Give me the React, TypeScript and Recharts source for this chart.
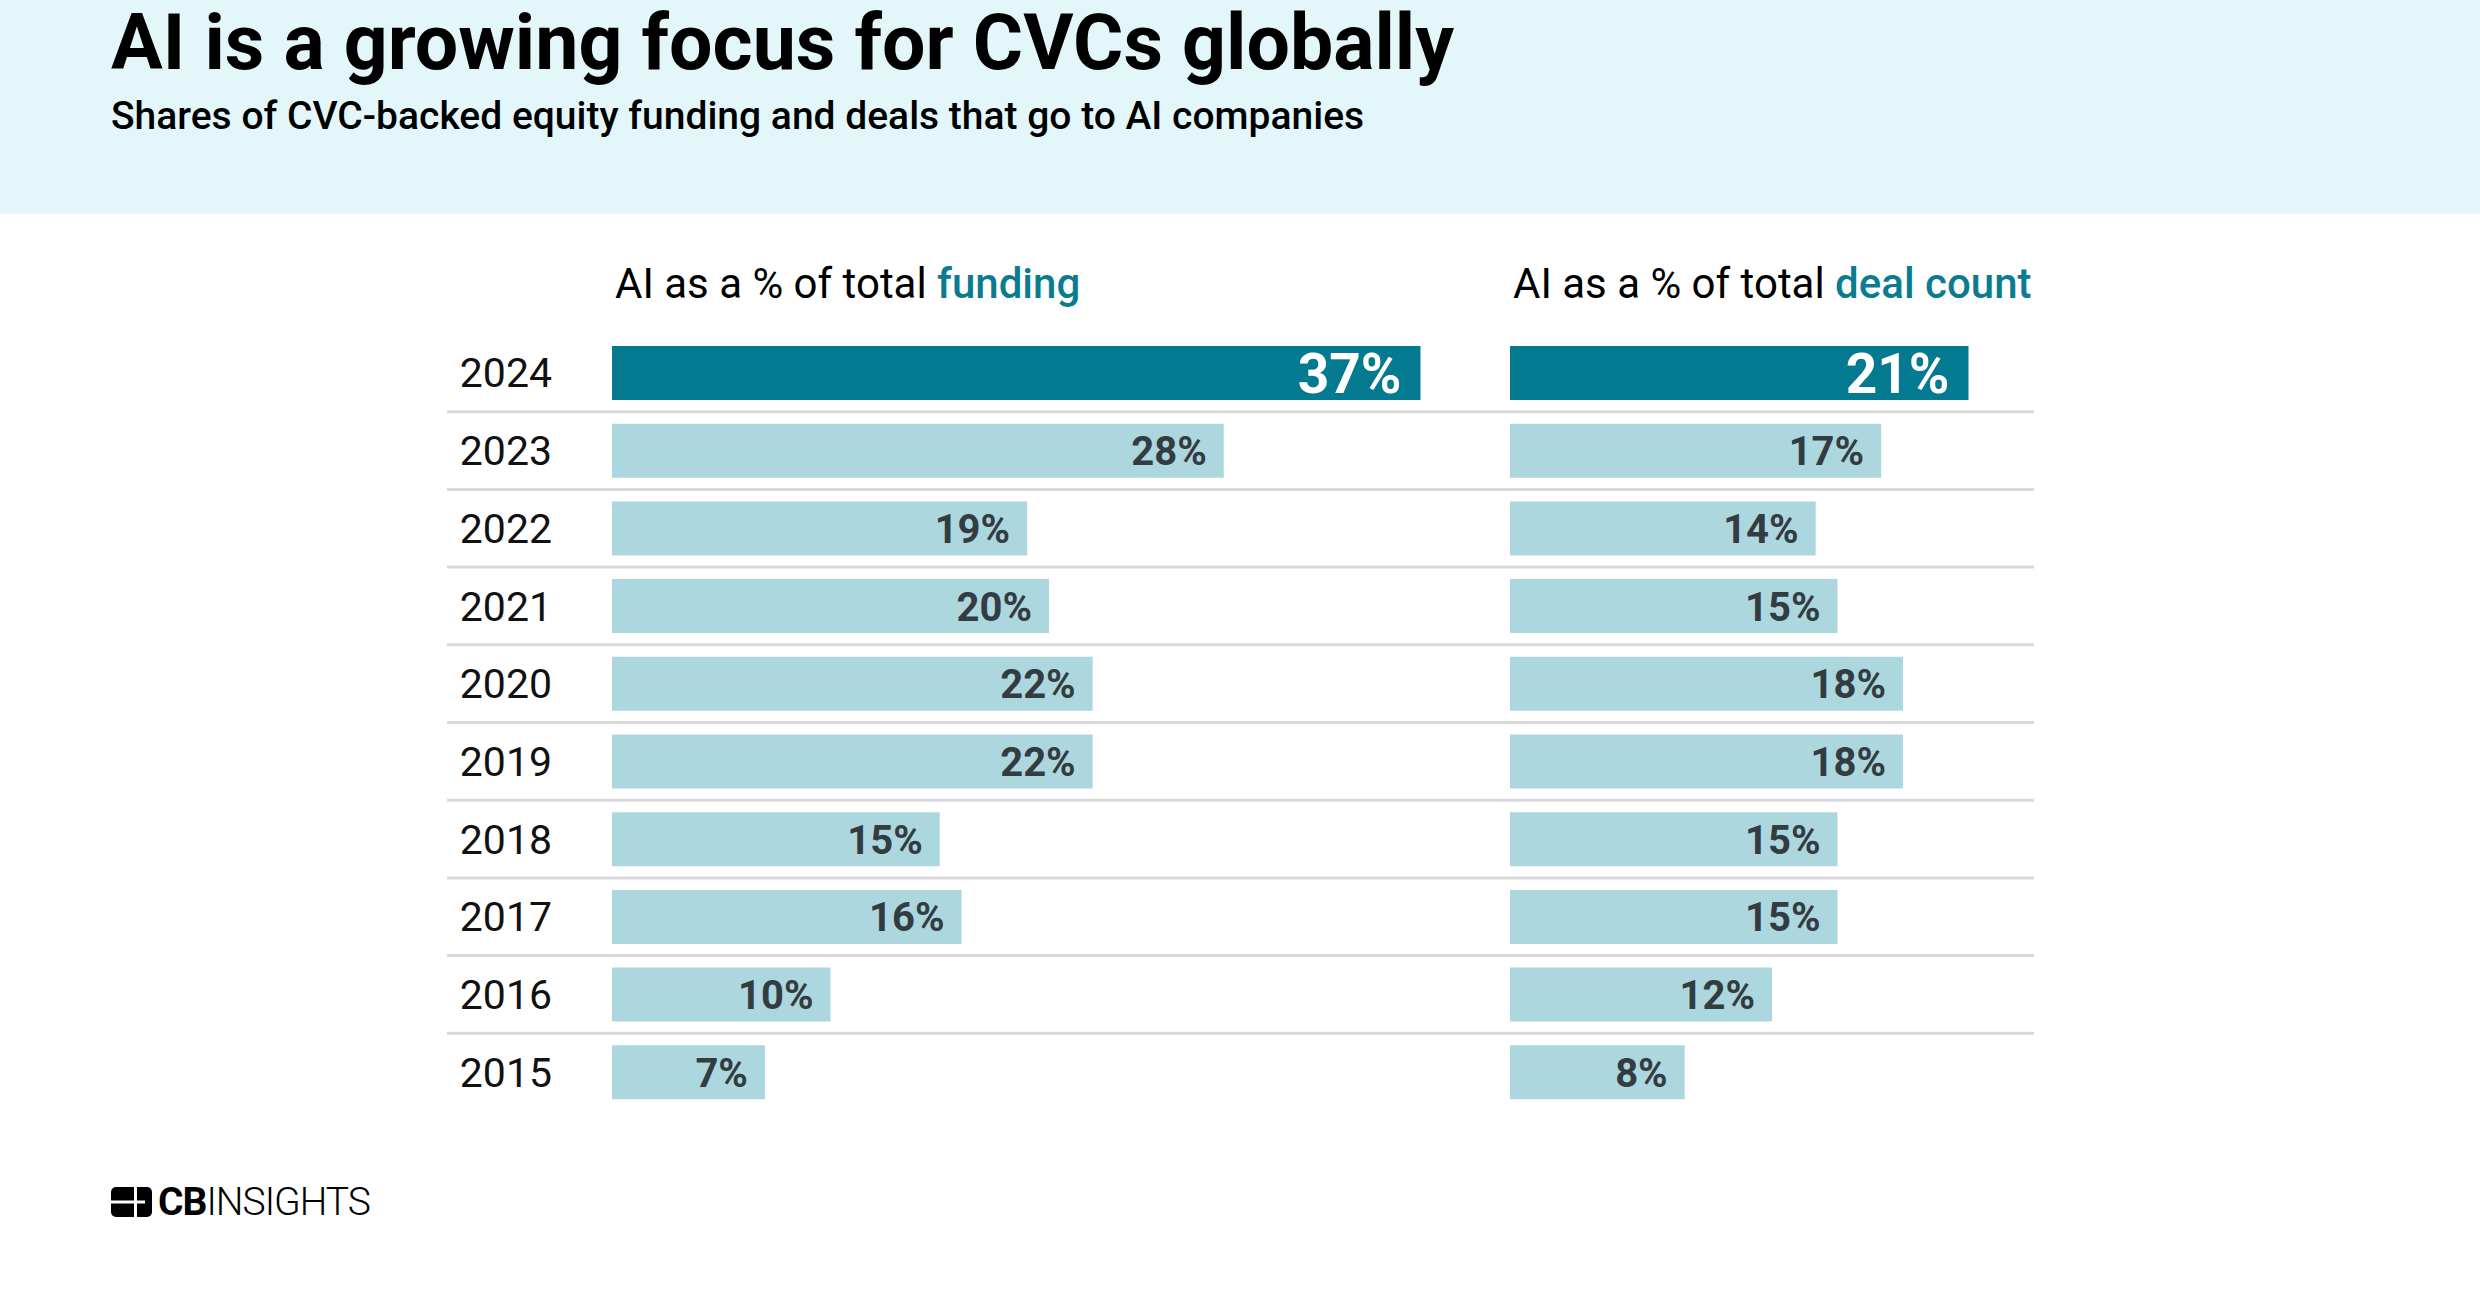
import { Bar, BarChart, CartesianGrid, Cell, LabelList, XAxis, YAxis } from "recharts"

const years = ["2024", "2023", "2022", "2021", "2020", "2019", "2018", "2017", "2016", "2015"]
const fundingShare = [37, 28, 19, 20, 22, 22, 15, 16, 10, 7]
const dealShare = [21, 17, 14, 15, 18, 18, 15, 15, 12, 8]

const rows = years.map((year, i) => ({ year, funding: fundingShare[i], deals: dealShare[i] }))

const DARK = "#037a8f"
const LIGHT = "#acd7df"
const FONT = "Roboto, 'Noto Sans', sans-serif"
const CHART_H = 777

// lines between rows, taken from the plot area
const rowDividers = ({ offset }: any) => {
  const step = offset.height / years.length
  return years.slice(1).map((_, i) => offset.top + step * (i + 1))
}

function ValueLabel(props: any) {
  const { x, y, width, height, value, index } = props
  const top = index === 0
  return (
    <text
      x={x + width - (top ? 19 : 17)}
      y={y + height / 2}
      dy="0.36em"
      textAnchor="end"
      fill={top ? "#ffffff" : "#333c40"}
      fontSize={top ? 55 : 40}
      fontWeight={700}
      fontFamily={FONT}
    >
      {value}%
    </text>
  )
}

function Panel({ dataKey, width, left, max, showYears }: any) {
  return (
    <BarChart
      layout="vertical"
      width={width}
      height={CHART_H}
      data={rows}
      margin={{ top: 0, right: 0, bottom: 0, left: showYears ? 0 : left }}
    >
      <CartesianGrid
        vertical={false}
        stroke="#d9d9d9"
        strokeWidth={3}
        x={0}
        width={width}
        horizontalCoordinatesGenerator={rowDividers}
      />
      <XAxis type="number" hide domain={[0, max]} allowDataOverflow />
      <YAxis
        type="category"
        dataKey="year"
        hide={!showYears}
        width={showYears ? left : 0}
        axisLine={false}
        tickLine={false}
        tickSize={0}
        tickMargin={60}
        tick={{ fill: "#111", fontSize: 41, fontFamily: FONT }}
      />
      <Bar dataKey={dataKey} barSize={54} isAnimationActive={false}>
        {rows.map((r, i) => (
          <Cell key={r.year} fill={i === 0 ? DARK : LIGHT} />
        ))}
        <LabelList dataKey={dataKey} content={ValueLabel} />
      </Bar>
    </BarChart>
  )
}

export default function App() {
  return (
    <div style={{ position: "absolute", left: 0, top: 0, width: 2480, height: 1304, background: "#fff", fontFamily: FONT }}>
      <div style={{ position: "absolute", left: 0, top: 0, width: 2480, height: 214, background: "#e3f7fb" }} />
      <div style={{ position: "absolute", left: 111, top: 5, fontSize: 77, lineHeight: "77px", fontWeight: 700, color: "#000", whiteSpace: "nowrap" }}>
        AI is a growing focus for CVCs globally
      </div>
      <div style={{ position: "absolute", left: 111, top: 93, fontSize: 39, fontWeight: 500, color: "#000", whiteSpace: "nowrap" }}>
        Shares of CVC-backed equity funding and deals that go to AI companies
      </div>

      <div style={{ position: "absolute", left: 615, top: 259, fontSize: 42, color: "#000", whiteSpace: "nowrap" }}>
        AI as a % of total <span style={{ color: "#0b7c8f", fontWeight: 500 }}>funding</span>
      </div>
      <div style={{ position: "absolute", left: 1513, top: 259, fontSize: 42, color: "#000", whiteSpace: "nowrap" }}>
        AI as a % of total <span style={{ color: "#0b7c8f", fontWeight: 500 }}>deal count</span>
      </div>

      <div style={{ position: "absolute", left: 447, top: 334 }}>
        <Panel dataKey="funding" width={1039} left={165} max={40} showYears />
      </div>
      <div style={{ position: "absolute", left: 1486, top: 334 }}>
        <Panel dataKey="deals" width={548} left={24} max={24} showYears={false} />
      </div>

      <div style={{ position: "absolute", left: 111, top: 1187, display: "flex", alignItems: "center", whiteSpace: "nowrap" }}>
        <svg width={41} height={30} style={{ marginRight: 6 }}>
          <rect x={0} y={0} width={41} height={30} rx={5} fill="#000" />
          <rect x={23} y={0} width={3} height={30} fill="#fff" />
          <rect x={0} y={13.5} width={34} height={3} fill="#fff" />
        </svg>
        <span style={{ fontSize: 39, fontWeight: 700, color: "#000", letterSpacing: -1, lineHeight: "30px" }}>CB</span>
        <span style={{ fontSize: 39, fontWeight: 300, color: "#000", letterSpacing: -1, lineHeight: "30px" }}>INSIGHTS</span>
      </div>
    </div>
  )
}
